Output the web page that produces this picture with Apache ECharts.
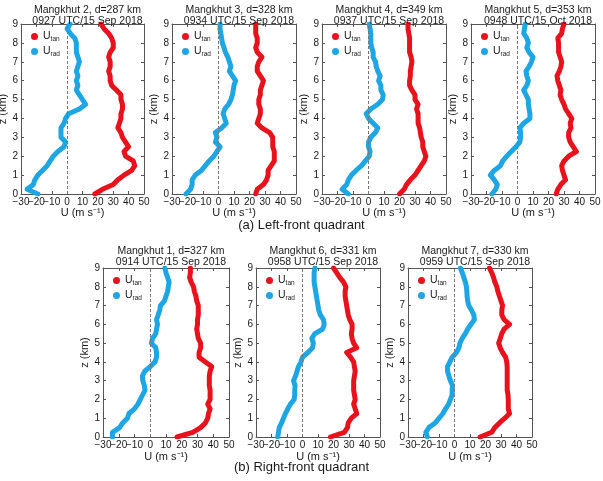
<!DOCTYPE html>
<html>
<head>
<meta charset="utf-8">
<script src="https://cdn.jsdelivr.net/npm/echarts@6/dist/echarts.min.js"></script>
<style>
  html, body { margin: 0; padding: 0; background: #fff; }
  #chart { width: 603px; height: 481px; }
</style>
</head>
<body>
<div id="chart"></div>
<script>
// heights (km) of every profile sample
const zLevels = [0, 0.25, 0.5, 0.75, 1, 1.25, 1.5, 1.75, 2, 2.25, 2.5, 2.75, 3, 3.25, 3.5, 3.75,
  4, 4.25, 4.5, 4.75, 5, 5.25, 5.5, 5.75, 6, 6.25, 6.5, 6.75, 7, 7.25, 7.5, 7.75, 8, 8.25, 8.5, 8.75, 9];

const xTicks = [-30, -20, -10, 0, 10, 20, 30, 40, 50];
const yTicks = [0, 1, 2, 3, 4, 5, 6, 7, 8, 9];

const panelTitles = [
  'Mangkhut 2, d=287 km\n0927 UTC/15 Sep 2018',
  'Mangkhut 3, d=328 km\n0934 UTC/15 Sep 2018',
  'Mangkhut 4, d=349 km\n0937 UTC/15 Sep 2018',
  'Mangkhut 5, d=353 km\n0948 UTC/15 Oct 2018',
  'Mangkhut 1, d=327 km\n0914 UTC/15 Sep 2018',
  'Mangkhut 6, d=331 km\n0958 UTC/15 Sep 2018',
  'Mangkhut 7, d=330 km\n0959 UTC/15 Sep 2018'
];

// U_tan / U_rad (m/s) at zLevels
const uTan2 = [18, 23, 30, 33, 37, 42, 44, 43, 38, 37, 40, 38, 36, 35, 33, 34, 35, 35, 36, 36, 35, 35, 32, 29, 28, 28, 27, 28, 28, 27, 28, 30, 30, 29, 27, 24, 22];
const uRad2 = [-19, -26, -22, -21, -19, -16, -13, -11, -9, -6, -2, -1, -4, -4, -4, -2, -1, 1, 8, 12, 10, 8, 6, 7, 6, 7, 6, 7, 8, 7, 6, 6, 6, 5, 2, 0, 2];
const uTan3 = [24, 25, 29, 31, 32, 32, 34, 36, 36, 36, 35, 35, 35, 33, 28, 25, 26, 27, 27, 26, 26, 27, 27, 28, 29, 27, 25, 25, 26, 28, 25, 24, 25, 25, 24, 24, 24];
const uRad3 = [-21, -18, -17, -17, -15, -11, -8.5, -6, -3, -1, 1, -2, -1, -2, 2, 5, 4, 3, 4, 6.5, 8, 9, 9.5, 10, 11, 9, 7, 8, 7, 6, 4.5, 3.5, 2.5, 2, 1.5, 1, 1];
const uTan4 = [20, 23, 24.5, 27, 30, 32, 34, 36, 37, 36, 35, 35, 34, 33.5, 33, 32, 32, 32, 31, 32, 30, 30, 28, 26.5, 26.5, 27, 27, 27.5, 28, 27.5, 26.5, 26.5, 26.5, 26.5, 26, 25.5, 25.5];
const uRad4 = [-13, -17, -14, -13, -11, -8, -4.5, -2, 0.5, 1, 0, 0, 1.5, 4.5, 6, 3, 0, -1.5, 1.5, 6, 9, 9.5, 8, 8, 6.5, 7.5, 6, 5, 4.5, 3, 3, 2, 1.5, 1.5, 1.5, 1, 0.5];
const uTan5 = [25, 26, 28, 31, 30, 29, 28.5, 30, 33, 38, 36, 34, 33, 33, 34.5, 34, 35, 33, 31, 30, 28.5, 27.5, 28, 27, 26, 25.5, 27, 28, 28.5, 27.5, 26.5, 26.5, 26.5, 26, 28.5, 29, 30];
const uRad5 = [-16.5, -14, -13, -15, -17.5, -15, -11, -9.5, -7, -4, -1, 1.5, 2, 2, 1.5, 4, 8, 8, 7.5, 7, 7, 5.5, 4, 6, 7, 6, 5.5, 7.5, 9, 10, 7.5, 6, 7, 6, 4, 4.5, 5];
const uTan1 = [17, 27, 32, 35, 36.5, 37, 38, 36.5, 38, 38, 38, 37.5, 37.5, 37.5, 38, 39, 35, 31, 31, 32, 32, 30.5, 30, 29.5, 30, 30, 30.5, 30.5, 30.5, 29.5, 29, 28, 27.5, 26, 25, 25.5, 25.5];
const uRad1 = [-24, -24, -19.5, -17.5, -14.5, -13.5, -10, -7.8, -6.3, -4.8, -3.3, -3.8, -4.7, -5, -3.5, 0, 3, 4, 4, 3.5, 0.7, 1.5, 3.5, 4, 4.6, 4, 5, 6, 6.5, 9, 10, 11, 11.5, 12, 11, 10, 9.3];
const uTan6 = [18, 27, 29, 29.5, 31.5, 35, 34, 33, 34, 33.5, 33, 33, 33, 33.5, 34, 33.5, 33, 31, 28.5, 35, 33, 32, 31.5, 32, 32, 30.5, 29.5, 29, 28.5, 28, 27.5, 27.5, 28, 26.5, 24, 22, 20];
const uRad6 = [-16, -15.5, -15, -13.5, -12.3, -11, -9.5, -7.8, -5.4, -5, -5, -4.8, -5.8, -4.5, -3.5, -2.6, -1, 0, 3.5, 6.5, 7, 6, 8, 13, 14, 13.5, 11.5, 10.5, 10, 9.5, 9, 8.5, 8, 7.5, 7.5, 7.5, 8];
const uTan7 = [16.5, 24, 26, 29, 32.5, 35.5, 34.7, 34.7, 34.7, 34.5, 34, 34, 34, 34, 34, 34, 33.7, 33, 31, 29.5, 28.5, 29.5, 30.5, 32, 35.5, 32, 30.5, 30.5, 31, 30, 29, 28, 27.3, 26, 25.2, 24, 22.6];
const uRad7 = [-17.5, -18.5, -16.5, -12.5, -10, -7.5, -5.8, -3.8, -2.6, -1.5, -1.5, -1.3, -2.6, -3.6, -4.5, -4.5, -3, -1.5, 1.3, 2.8, 3.5, 5, 7, 8.5, 10.7, 12.8, 12.5, 11, 9.2, 8.5, 8.1, 8, 7.7, 7, 6, 5, 3.8];

const tanList = [uTan2, uTan3, uTan4, uTan5, uTan1, uTan6, uTan7];
const radList = [uRad2, uRad3, uRad4, uRad5, uRad1, uRad6, uRad7];

// plot boxes in pixels
const boxes = [
  {left: 21, top: 24, width: 123, height: 170},
  {left: 172, top: 24, width: 124, height: 170},
  {left: 322, top: 24, width: 124, height: 170},
  {left: 471, top: 24, width: 124, height: 170},
  {left: 103, top: 268, width: 126, height: 169},
  {left: 256, top: 268, width: 124, height: 169},
  {left: 408, top: 268, width: 124, height: 169}
];

const RED = '#e8121c';
const BLUE = '#1ea5e4';
const TXT = '#1a1a1a';
const FRAME = '#555';
const FONT = 'Liberation Sans, Arial, sans-serif';
const TICK_FS = 10;

// the tick labels are packed edge to edge, so they are split over two
// stacked axes; otherwise echarts drops the one next to -30
function labelsFrom(start) {
  return v => ((v - start) % 20 === 0 ? (v < 0 ? '\u2212' + (-v) : String(v)) : '');
}

let chart = echarts.init(document.getElementById('chart'), null, {renderer: 'canvas'});

let grid = [], xAxis = [], yAxis = [], series = [], title = [], legend = [];

boxes.forEach((b, i) => {
  grid.push({left: b.left, top: b.top, width: b.width, height: b.height, show: false, outerBoundsMode: 'none'});
  let tick = {show: true, inside: true, length: 3, lineStyle: {color: FRAME}};
  let line = {onZero: false, lineStyle: {color: FRAME, width: 1}};
  let xBase = {
    type: 'value', gridIndex: i, min: xTicks[0], max: xTicks[xTicks.length - 1], interval: 10,
    splitLine: {show: false}
  };
  // bottom axis, labels -30, -10, 10, 30, 50
  xAxis.push(Object.assign({}, xBase, {
    position: 'bottom',
    name: 'U (m s\u207B\u00B9)', nameLocation: 'middle', nameGap: i < 4 ? 13 : 14,
    nameTextStyle: {color: TXT, fontSize: 11, fontFamily: FONT},
    axisLine: line,
    axisTick: tick,
    axisLabel: {color: TXT, fontSize: TICK_FS, fontFamily: FONT, margin: 3, formatter: labelsFrom(-30), showMinLabel: true, showMaxLabel: true}
  }));
  // bottom axis, labels -20, 0, 20, 40
  xAxis.push(Object.assign({}, xBase, {
    position: 'bottom',
    axisLine: {show: false, onZero: false}, axisTick: {show: false},
    axisLabel: {color: TXT, fontSize: TICK_FS, fontFamily: FONT, margin: 3, formatter: labelsFrom(-20), showMinLabel: true, showMaxLabel: true}
  }));
  // top axis closes the box
  xAxis.push(Object.assign({}, xBase, {
    position: 'top', axisLine: line, axisTick: tick, axisLabel: {show: false}
  }));
  yAxis.push({
    type: 'value', gridIndex: i, min: yTicks[0], max: yTicks[yTicks.length - 1], interval: 1,
    position: 'left',
    name: 'z (km)', nameLocation: 'middle', nameGap: 12, nameRotate: 90,
    nameTextStyle: {color: TXT, fontSize: 11, fontFamily: FONT},
    axisLine: line,
    axisTick: tick,
    axisLabel: {color: TXT, fontSize: TICK_FS, fontFamily: FONT, margin: 3},
    splitLine: {show: false}
  });
  yAxis.push({
    type: 'value', gridIndex: i, min: yTicks[0], max: yTicks[yTicks.length - 1], interval: 1,
    position: 'right', axisLine: line,
    axisTick: tick, axisLabel: {show: false}, splitLine: {show: false}
  });

  title.push({
    text: panelTitles[i],
    left: b.left + b.width / 2, top: i < 4 ? 0 : 241, textAlign: 'center',
    textStyle: {color: TXT, fontSize: 10.5, fontWeight: 'normal', fontFamily: FONT, lineHeight: 11}
  });

  legend.push({
    data: ['U_tan', 'U_rad'], orient: 'vertical',
    left: b.left + 5, top: b.top + 2, itemGap: 3,
    icon: 'circle', itemWidth: 7, itemHeight: 7,
    formatter: n => '{u|U}{s|' + n.split('_')[1] + '}',
    textStyle: {
      color: TXT, fontFamily: FONT,
      rich: {u: {fontSize: 10.5, fontFamily: FONT}, s: {fontSize: 6.5, fontFamily: FONT, padding: [6, 0, 0, 0]}}
    }
  });

  series.push({
    name: 'U_rad', type: 'line', xAxisIndex: 3 * i, yAxisIndex: 2 * i,
    data: zLevels.map((z, k) => [radList[i][k], z]),
    showSymbol: false, symbol: 'circle', color: BLUE,
    lineStyle: {color: BLUE, width: 5, join: 'round', cap: 'round'},
    animation: false,
    markLine: {
      silent: true, symbol: 'none', label: {show: false},
      lineStyle: {color: '#777', type: [3, 2], width: 1},
      data: [{xAxis: 0}]
    }
  });
  series.push({
    name: 'U_tan', type: 'line', xAxisIndex: 3 * i, yAxisIndex: 2 * i,
    data: zLevels.map((z, k) => [tanList[i][k], z]),
    showSymbol: false, symbol: 'circle', color: RED,
    lineStyle: {color: RED, width: 5, join: 'round', cap: 'round'},
    animation: false
  });
});

chart.setOption({
  animation: false,
  title: title,
  legend: legend,
  grid: grid,
  xAxis: xAxis,
  yAxis: yAxis,
  series: series,
  graphic: [
    {type: 'text', left: 'center', top: 219, style: {text: '(a) Left-front quadrant', fill: TXT, fontSize: 13, fontFamily: FONT}},
    {type: 'text', left: 'center', top: 461, style: {text: '(b) Right-front quadrant', fill: TXT, fontSize: 13, fontFamily: FONT}}
  ]
});
</script>
</body>
</html>
